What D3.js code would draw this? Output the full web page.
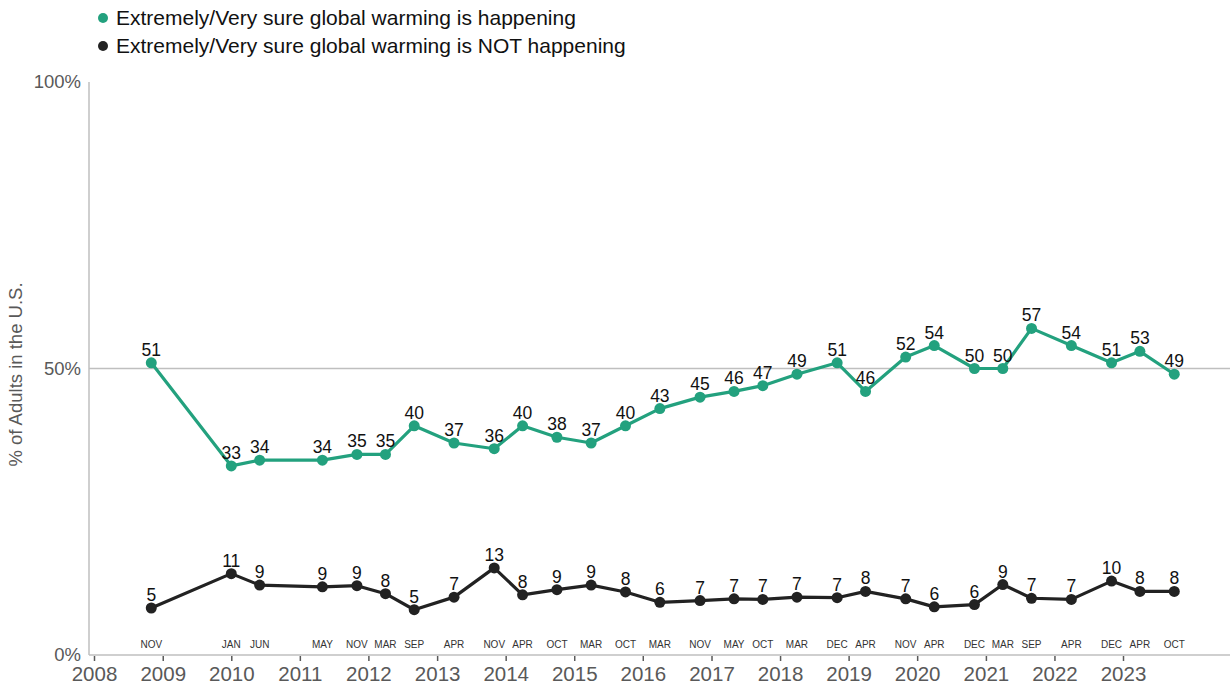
<!DOCTYPE html>
<meta charset="utf-8">
<head>
    <title>Sure global warming is / is not happening</title>
</head>
<style>
  body {
    margin: 0;
    background: #fff;
    font-family: "Liberation Sans", Arial, sans-serif;
  }
  .axis path { display: none; }
  .axis line { stroke: #595959; stroke-width: 1.5px; }
  .xaxis text { font-size: 20.5px; fill: #595959; font-family: "Liberation Sans", Arial, sans-serif; }
  .ylab { font-size: 18.5px; fill: #595959; }
  .month { font-size: 10px; fill: #333; text-anchor: middle; }
  .val { font-size: 17.5px; fill: #111; text-anchor: middle; }
  .legend text { font-size: 21px; fill: #111; }
</style>
<body>
<script src="https://cdn.jsdelivr.net/npm/d3@7"></script>
<script>
// survey waves: where each point sits on the time axis, and the month printed under it
var waveDates = ["2008-11","2010-01","2010-06","2011-05","2011-11","2012-04","2012-09",
  "2013-04","2013-11","2014-04","2014-10","2015-04","2015-10","2016-04","2016-11",
  "2017-05","2017-10","2018-04","2018-11","2019-04","2019-11","2020-04","2020-11",
  "2021-04","2021-09","2022-04","2022-11","2023-04","2023-10"];
var waveMonths = ["NOV","JAN","JUN","MAY","NOV","MAR","SEP","APR","NOV","APR","OCT","MAR",
  "OCT","MAR","NOV","MAY","OCT","MAR","DEC","APR","NOV","APR","DEC","MAR","SEP","APR",
  "DEC","APR","OCT"];

// extremely/very sure it IS happening
var happening = [51,33,34,34,35,35,40,37,36,40,38,37,40,43,45,46,47,49,51,46,52,54,50,50,57,54,51,53,49];

// extremely/very sure it is NOT happening: printed labels, and the level the line is drawn at
var notHappeningLabels = [5,11,9,9,9,8,5,7,13,8,9,9,8,6,7,7,7,7,7,8,7,6,6,9,7,7,10,8,8];
var notHappening = [8.2,14.2,12.2,11.9,12.1,10.7,7.9,10.1,15.2,10.5,11.4,12.2,11.0,9.2,9.5,
  9.8,9.7,10.1,10.0,11.1,9.8,8.4,8.8,12.3,9.9,9.7,12.9,11.1,11.1];

var yearTicks = [2008,2009,2010,2011,2012,2013,2014,2015,2016,2017,2018,2019,2020,2021,2022,2023];
var yTicks = [0, 50, 100];

var seriesNames = ["Extremely/Very sure global warming is happening",
                   "Extremely/Very sure global warming is NOT happening"];
var seriesColors = ["#23a17e", "#222222"];

var W = 1230, H = 687,
    plotLeft = 89, plotBottom = 655, plotTop = 82, plotRight = 1230;

var parse = d3.timeParse("%Y-%m");
var dates = waveDates.map(parse);

var x = d3.scaleTime()
    .domain([new Date(2008, 0, 1), new Date(2023, 0, 1)])
    .range([94, 1123]);
var y = d3.scaleLinear().domain([0, 100]).range([plotBottom, plotTop]);

var svg = d3.select("body").append("svg")
    .attr("width", W)
    .attr("height", H);

// frame: y axis line, x axis line, 50% gridline
svg.append("line")
    .attr("x1", plotLeft).attr("x2", plotLeft)
    .attr("y1", y(100)).attr("y2", y(0))
    .style("stroke", "#bfbfbf").style("stroke-width", 1.5);
svg.append("line")
    .attr("x1", plotLeft).attr("x2", plotRight)
    .attr("y1", y(0)).attr("y2", y(0))
    .style("stroke", "#bfbfbf").style("stroke-width", 1.5);
svg.append("line")
    .attr("x1", plotLeft).attr("x2", plotRight)
    .attr("y1", y(50)).attr("y2", y(50))
    .style("stroke", "#bfbfbf").style("stroke-width", 1.5);

// y tick labels
svg.selectAll(".ylab")
    .data(yTicks)
  .enter().append("text")
    .attr("class", "ylab")
    .attr("x", plotLeft - 8)
    .attr("y", function(d) { return y(d); })
    .attr("dy", "0.35em")
    .style("text-anchor", "end")
    .text(function(d) { return d + "%"; });

svg.append("text")
    .attr("transform", "translate(22," + (y(50) + 6) + ") rotate(-90)")
    .attr("class", "ylab")
    .style("text-anchor", "middle")
    .text("% of Adults in the U.S.");

// x axis (years)
svg.append("g")
    .attr("class", "axis xaxis")
    .attr("transform", "translate(0," + (plotBottom + 1) + ")")
    .call(d3.axisBottom(x)
        .tickValues(yearTicks.map(function(yr) { return new Date(yr, 0, 1); }))
        .tickFormat(d3.timeFormat("%Y"))
        .tickSize(5)
        .tickPadding(5));

// month labels
svg.selectAll(".month")
    .data(dates)
  .enter().append("text")
    .attr("class", "month")
    .attr("x", function(d) { return x(d); })
    .attr("y", plotBottom - 7)
    .text(function(d, i) { return waveMonths[i]; });

// series
var series = [
  { values: happening, labels: happening, color: seriesColors[0] },
  { values: notHappening, labels: notHappeningLabels, color: seriesColors[1] }
];

var line = d3.line()
    .x(function(d) { return x(d.date); })
    .y(function(d) { return y(d.v); });

series.forEach(function(s) {
  var pts = dates.map(function(d, i) { return { date: d, v: s.values[i], label: s.labels[i] }; });

  svg.append("path")
      .datum(pts)
      .attr("d", line)
      .style("fill", "none")
      .style("stroke", s.color)
      .style("stroke-width", 3.2)
      .style("stroke-linejoin", "round");

  svg.selectAll(null)
      .data(pts)
    .enter().append("circle")
      .attr("cx", function(d) { return x(d.date); })
      .attr("cy", function(d) { return y(d.v); })
      .attr("r", 5.5)
      .style("fill", s.color);

  svg.selectAll(null)
      .data(pts)
    .enter().append("text")
      .attr("class", "val")
      .attr("x", function(d) { return x(d.date); })
      .attr("y", function(d) { return y(d.v) - 7; })
      .text(function(d) { return d.label; });
});

// legend
var legend = svg.append("g").attr("class", "legend");
seriesNames.forEach(function(name, i) {
  legend.append("circle")
      .attr("cx", 103).attr("cy", 18 + i * 28)
      .attr("r", 5)
      .style("fill", seriesColors[i]);
  legend.append("text")
      .attr("x", 116).attr("y", 18 + i * 28)
      .attr("dy", "0.35em")
      .text(name);
});
</script>
</body>
